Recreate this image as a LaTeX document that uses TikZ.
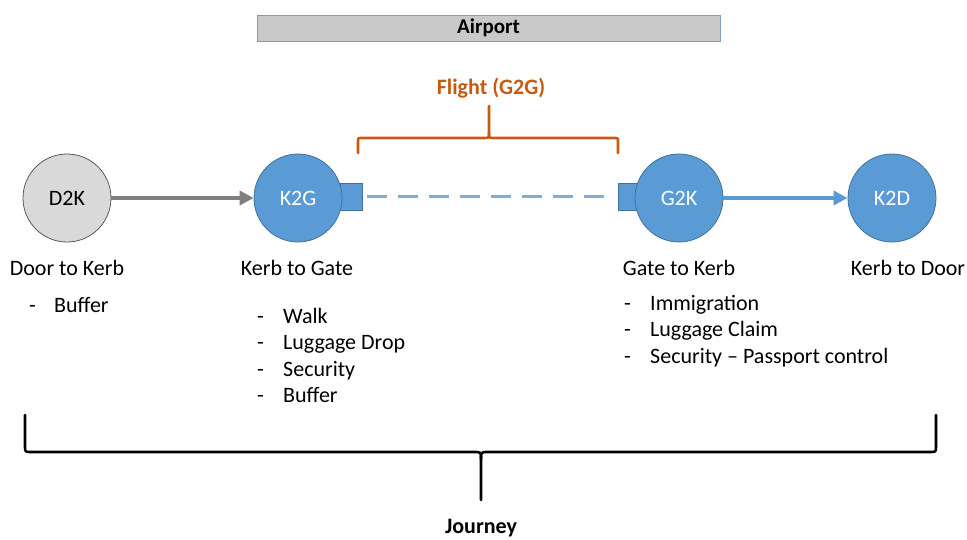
\documentclass[tikz,border=0pt]{standalone}
\usepackage{fontspec}
\setmainfont{Carlito}
\usetikzlibrary{arrows.meta}
\definecolor{cblue}{HTML}{5B9BD5}
\definecolor{cbluedark}{HTML}{41719C}
\definecolor{cgray}{HTML}{D9D9D9}
\definecolor{corange}{HTML}{C55A11}
\definecolor{cline}{HTML}{7F7F7F}
\definecolor{boxgray}{HTML}{C9C9C9}
\definecolor{boxedge}{HTML}{7C9CC0}
\tikzset{
  txt/.style={font=\fontsize{22}{26}\selectfont, inner sep=0pt, text height=15pt, text depth=5pt},
  bold/.style={font=\fontsize{22}{26}\selectfont\bfseries, inner sep=0pt},
  bluecirc/.style={circle, minimum size=88pt, inner sep=0pt, fill=cblue, draw=cbluedark, line width=0.8pt, text=white, font=\fontsize{22}{26}\selectfont},
  graycirc/.style={circle, minimum size=88pt, inner sep=0pt, fill=cgray, draw=black!65, line width=0.8pt, text=black, font=\fontsize{22}{26}\selectfont},
  port/.style={fill=cblue, draw=cbluedark, line width=0.6pt, minimum width=22pt, minimum height=27pt, inner sep=0pt},
  conn/.style={line width=4pt, -{Triangle[length=14pt,width=14pt]}},
  brace/.style={line width=2.6pt, line cap=round, line join=round}
}
\begin{document}
\begin{tikzpicture}[x=1pt,y=-1pt]
\useasboundingbox (0,0) rectangle (967,539);
% Airport banner
\node[draw=boxedge, fill=boxgray, line width=1pt, minimum width=463pt, minimum height=26pt, inner sep=0pt, font=\fontsize{21}{25}\selectfont\bfseries] (airport) at (488.5,28) {Airport};
% ports
\node[port] (portL) at (351,196.5) {};
\node[port] (portR) at (629,196.5) {};
% circles
\node[graycirc] (d2k) at (67,198) {D2K};
\node[bluecirc] (k2g) at (298,198) {K2G};
\node[bluecirc] (g2k) at (679,198) {G2K};
\node[bluecirc] (k2d) at (892,198) {K2D};
% connectors
\draw[conn, draw=cline, fill=cline] (d2k) -- (k2g);
\draw[conn, draw=cblue, fill=cblue] (g2k) -- (k2d);
\draw[cblue!80, line width=3pt, dash pattern=on 20pt off 11pt] ([xshift=5pt]portL.east) -- ([xshift=-3pt]portR.west);
% flight brace
\draw[brace, corange] (358,153) -- (358,142) .. controls (358,138) .. (362,138) -- (484,138) .. controls (489,138) .. (489,133) -- (489,106);
\draw[brace, corange] (618,153) -- (618,142) .. controls (618,138) .. (614,138) -- (494,138) .. controls (489,138) .. (489,133);
\node[bold, text=corange] (flight) at (491,88) {Flight (G2G)};
% titles
\node[txt] (t1) at (67,270) {Door to Kerb};
\node[txt] (t2) at (297,270) {Kerb to Gate};
\node[txt] (t3) at (679,270) {Gate to Kerb};
\node[txt] (t4) at (908,270) {Kerb to Door};
% lists
\node[txt, anchor=west] (l1d) at (29,307) {-};
\node[txt, anchor=west] (l1) at (54,307) {Buffer};
\node[txt, anchor=west] (l2d1) at (257,318) {-};
\node[txt, anchor=west] (l2a) at (283,318) {Walk};
\node[txt, anchor=west] (l2d2) at (257,344.5) {-};
\node[txt, anchor=west] (l2b) at (283,344.5) {Luggage Drop};
\node[txt, anchor=west] (l2d3) at (257,371) {-};
\node[txt, anchor=west] (l2c) at (283,371) {Security};
\node[txt, anchor=west] (l2d4) at (257,397.5) {-};
\node[txt, anchor=west] (l2e) at (283,397.5) {Buffer};
\node[txt, anchor=west] (l3d1) at (624,305) {-};
\node[txt, anchor=west] (l3a) at (650,305) {Immigration};
\node[txt, anchor=west] (l3d2) at (624,331.5) {-};
\node[txt, anchor=west] (l3b) at (650,331.5) {Luggage Claim};
\node[txt, anchor=west] (l3d3) at (624,358) {-};
\node[txt, anchor=west] (l3c) at (650,358) {Security -- Passport control};
% journey brace
\draw[brace, black] (25,415) -- (25,446) .. controls (25,452) .. (31,452) -- (474,452) .. controls (481,452) .. (481,459) -- (481,500);
\draw[brace, black] (936,415) -- (936,446) .. controls (936,452) .. (930,452) -- (488,452) .. controls (481,452) .. (481,459);
\node[bold] (journey) at (481,528) {Journey};
\end{tikzpicture}
\end{document}
